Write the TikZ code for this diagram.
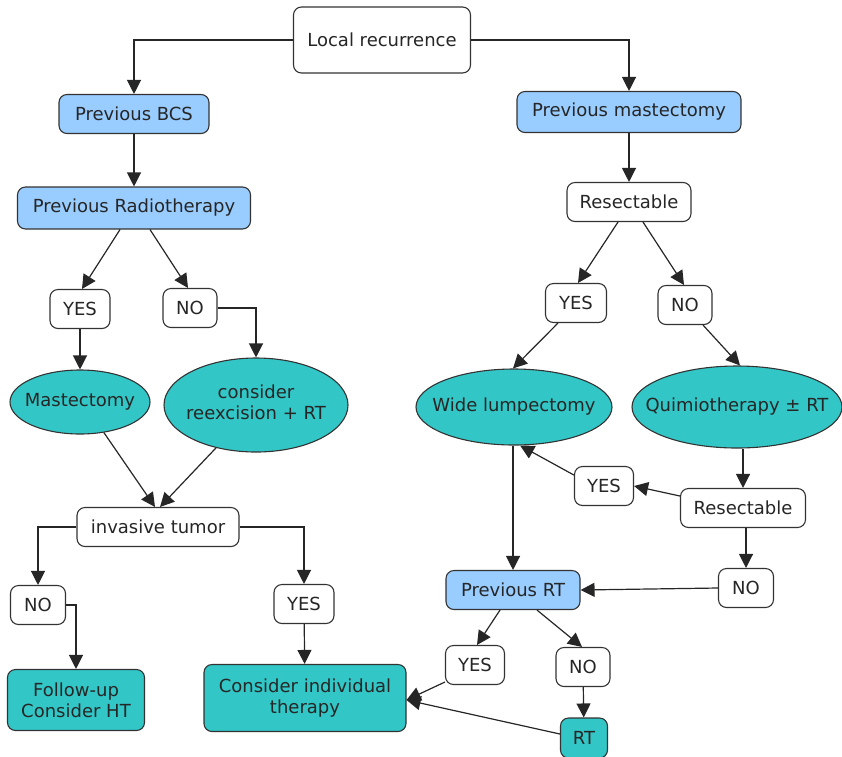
\documentclass[tikz,border=0pt]{standalone}
\usepackage{fontspec}
\setmainfont{DejaVu Sans}
\usetikzlibrary{arrows.meta,shapes.geometric}
\newcommand\ovaltext[1]{\makebox[0pt]{\begin{tabular}{@{}c@{}}#1\end{tabular}}}
\begin{document}
\begin{tikzpicture}[x=1pt,y=-1pt,
  box/.style={draw=black!80,line width=1.1pt,rounded corners=8pt,fill=white,minimum height=39pt,inner sep=0pt,font=\fontsize{18}{21}\selectfont,text=black!85},
  bluebox/.style={box,fill=skyblue},
  tealbox/.style={box,fill=tealfill,align=center},
  oval/.style={ellipse,draw=black!80,line width=1.1pt,fill=tealfill,inner sep=0pt,font=\fontsize{18}{21}\selectfont,text=black!85},
  arr/.style={draw=black!85,line width=1.2pt,-{Triangle[width=14pt,length=14pt]}}]
  \definecolor{skyblue}{RGB}{153,204,255}
  \definecolor{tealfill}{RGB}{50,198,198}
  \useasboundingbox (0,0) rectangle (842,756);
  \node[box,minimum width=177,minimum height=66] (lr) at (382,40) {Local recurrence};
  \node[bluebox,minimum width=150] (bcs) at (134,114) {Previous BCS};
  \node[bluebox,minimum width=233,minimum height=42] (rad) at (134,208) {Previous Radiotherapy};
  \node[bluebox,minimum width=224,minimum height=41] (pm) at (629,112) {Previous mastectomy};
  \node[box,minimum width=124] (res) at (629,202) {Resectable};
  \node[box,minimum width=60] (ly) at (80,309) {YES};
  \node[box,minimum width=54] (ln) at (190,308) {NO};
  \node[oval,minimum width=140,minimum height=64] (mast) at (80,402) {\ovaltext{Mastectomy}};
  \node[oval,minimum width=184,minimum height=94] (reex) at (256,405) {\ovaltext{consider\\reexcision + RT}};
  \node[box,minimum width=162] (inv) at (158,527) {invasive tumor};
  \node[box,minimum width=55] (bn) at (38,605) {NO};
  \node[box,minimum width=60] (by) at (304,604) {YES};
  \node[tealbox,minimum width=137,minimum height=61] (fu) at (76,700) {Follow-up\\Consider HT};
  \node[tealbox,minimum width=202,minimum height=67] (ind) at (305,698) {Consider individual\\therapy};
  \node[box,minimum width=61] (ry) at (576,303) {YES};
  \node[box,minimum width=54] (rn) at (685,305) {NO};
  \node[oval,minimum width=196,minimum height=76] (wl) at (514,407) {\ovaltext{Wide lumpectomy}};
  \node[oval,minimum width=210,minimum height=82] (qt) at (737,407) {\ovaltext{Quimiotherapy ± RT}};
  \node[box,minimum width=59] (my) at (604,486) {YES};
  \node[box,minimum width=125] (res2) at (743,508) {Resectable};
  \node[box,minimum width=55] (mn) at (746,588) {NO};
  \node[bluebox,minimum width=134] (prt) at (513,590) {Previous RT};
  \node[box,minimum width=59] (ly2) at (475,665) {YES};
  \node[box,minimum width=54] (ln2) at (583,667) {NO};
  \node[tealbox,minimum width=47,minimum height=40] (rt) at (584,738) {RT};
  \draw[arr] (lr.west) -| (bcs);
  \draw[arr] (lr.east) -| (pm);
  \foreach \a/\b in {bcs/rad,ly/mast,by/ind,ln2/rt,pm/res}
    \draw[arr] (\a) -- (\b);
  \draw[arr] ([xshift=-14]rad.south) -- ([xshift=2]ly.north);
  \draw[arr] ([xshift=16]rad.south) -- ([xshift=-2]ln.north);
  \draw[arr] (ln.east) -| (reex);
  \draw[arr] (mast.-52) -- ([xshift=-3]inv.north);
  \draw[arr] (reex.-133) -- ([xshift=2]inv.north);
  \draw[arr] (inv.west) -| (bn);
  \draw[arr] (inv.east) -| (by);
  \draw[arr] (bn.east) -| (fu);
  \draw[arr] ([xshift=-11]res.south) -- ([xshift=2]ry.north);
  \draw[arr] ([xshift=14]res.south) -- ([xshift=-1]rn.north);
  \draw[arr] ([xshift=-18]ry.south) -- ([xshift=-1]wl.north);
  \draw[arr] ([xshift=18]rn.south) -- ([xshift=3]qt.north);
  \draw[arr] ([xshift=6]qt.south) -- (res2.north);
  \draw[arr] ([yshift=12]res2.west) -- (my.east);
  \draw[arr] (my.160) -- (wl.-81);
  \draw[arr] ([xshift=-1]wl.south) -- (prt.north);
  \draw[arr] ([xshift=3]res2.south) -- (mn.north);
  \draw[arr] (mn.west) -- (prt.east);
  \draw[arr] ([xshift=-13]prt.south) -- ([xshift=2]ly2.north);
  \draw[arr] ([xshift=24]prt.south) -- ([xshift=-1]ln2.north);
  \draw[arr] ([yshift=-17]ly2.west) -- ([yshift=-2]ind.east);
  \draw[arr] ([yshift=4]rt.west) -- ([yshift=-2]ind.east);
\end{tikzpicture}
\end{document}
